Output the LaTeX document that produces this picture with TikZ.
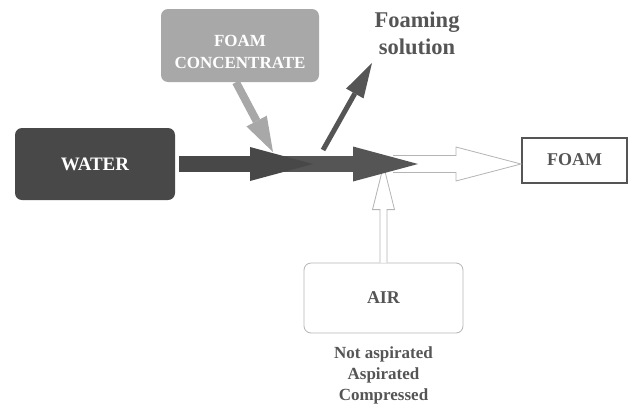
\documentclass[tikz,border=0pt]{standalone}
\usepackage{fontspec}
\setmainfont{Liberation Serif}
\usepackage{xcolor}
\usepackage{tikz}
\usetikzlibrary{positioning, arrows.meta, calc}

\definecolor{waterc}{HTML}{484848}
\definecolor{mixc}{HTML}{555555}
\definecolor{concc}{HTML}{A8A8A8}
\definecolor{airc}{HTML}{B4B4B4}

\begin{document}
\begin{tikzpicture}[x=1pt, y=-1pt, font=\bfseries,
    box/.style={rounded corners=7pt, align=center, inner sep=0pt},
    hollow/.style={draw=airc, fill=white, line width=0.8pt, line join=miter},
    fat/.style={line width=#1}]
    \useasboundingbox (0,0) rectangle (643,408);

    \node[box, fill=waterc, text=white, minimum width=160pt, minimum height=72pt,
          font=\bfseries\fontsize{19}{22}\selectfont]        (water) at (95,164)    {WATER};
    \node[box, fill=concc, text=white, minimum width=158pt, minimum height=73pt,
          font=\bfseries\fontsize{17}{22}\selectfont]        (conc)  at (240,45.5)
          {\raisebox{-8pt}[\height][\depth]{\begin{tabular}{@{}c@{}}FOAM\\CONCENTRATE\end{tabular}}};
    \node[draw=mixc, line width=2pt, text=mixc, minimum width=105pt, minimum height=45pt,
          font=\bfseries\fontsize{18}{21}\selectfont]        (foam)  at (574.5,160) {FOAM};
    \node[box, draw=airc, line width=0.8pt, text=mixc, minimum width=159pt, minimum height=70pt,
          font=\bfseries\fontsize{18}{21}\selectfont]        (air)   at (383.5,298) {AIR};
    \node[align=center, text=mixc, font=\bfseries\fontsize{17}{21}\selectfont]
                                                             (airtype) [below=10pt of air] {Not aspirated\\Aspirated\\Compressed};
    \node[align=center, text=mixc, font=\bfseries\fontsize{22.5}{27}\selectfont]
                                                             (soln)  at (417,33)    {Foaming\\solution};

    \coordinate (mixin)    at (285,164);
    \coordinate (mixout)   at (418,164);
    \coordinate (foamtip)  at (foam.west |- mixout);
    \coordinate (airtip)   at ($(air.north)+(0,-97)$);
    \coordinate (conctip)  at (273,152);
    \coordinate (solnfrom) at (323,150);
    \coordinate (solntip)  at (372,63);

    % open arrows: to the foam and up from the air
    \draw[hollow] ($(mixout)+(-25,-8.5)$) -- ($(foamtip)+(-65,-8.5)$) -- ($(foamtip)+(-65,-17)$)
        -- (foamtip) -- ($(foamtip)+(-65,17)$) -- ($(foamtip)+(-65,8.5)$) -- ($(mixout)+(-25,8.5)$);
    \draw[hollow] ($(air.north)+(-3.5,0)$) -- ($(airtip)+(-3.5,44)$) -- ($(airtip)+(-11,44)$)
        -- (airtip) -- ($(airtip)+(11,44)$) -- ($(airtip)+(3.5,44)$) -- ($(air.north)+(3.5,0)$);

    % filled arrows
    \draw[fat=16pt, mixc, -{Triangle[length=65pt, width=35pt, line width=0pt 0 0]}] (mixin) -- (mixout);
    \draw[fat=16pt, waterc, -{Triangle[length=63pt, width=34pt, line width=0pt 0 0]}]
        ($(water.east)+(4,0)$) -- (water.east -| mixin) -- ++(28,0);
    \draw[fat=8pt, concc, -{Triangle[length=35pt, width=23pt, line width=0pt 0 0]}]
        ($(conc.south)+(-4,0)$) -- (conctip);
    \draw[fat=5pt, mixc, -{Triangle[length=35pt, width=20pt, line width=0pt 0 0]}] (solnfrom) -- (solntip);
\end{tikzpicture}
\end{document}
